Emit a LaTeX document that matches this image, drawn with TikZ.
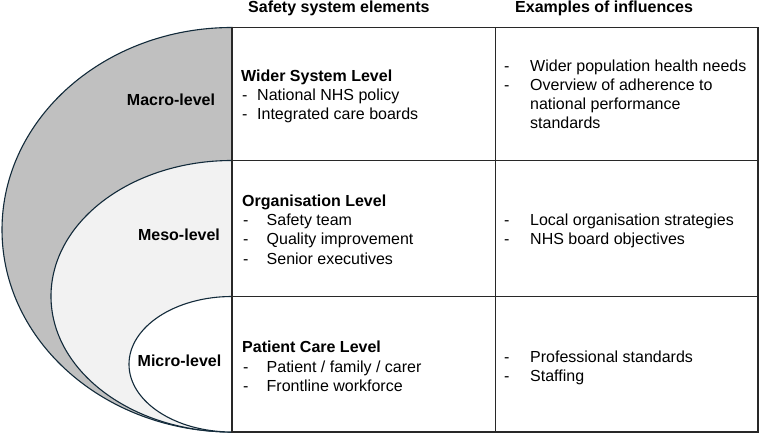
\documentclass[tikz,border=0pt]{standalone}
\usepackage{fontspec}
\setmainfont{Liberation Sans}
\definecolor{edgec}{RGB}{18,42,58}
\definecolor{gridc}{RGB}{40,40,40}
\definecolor{macrofill}{RGB}{192,192,192}
\definecolor{mesofill}{RGB}{242,242,242}
\begin{document}
\begin{tikzpicture}[x=1pt,y=1pt,
  txt/.style={anchor=base west, inner sep=0pt, font=\fontsize{16}{19}\selectfont},
  btxt/.style={anchor=base west, inner sep=0pt, font=\fontsize{16}{19}\selectfont\bfseries},
  lvl/.style={anchor=center, inner sep=0pt, font=\fontsize{16}{19}\selectfont\bfseries},
  ring/.style={draw=edgec, line width=1.1pt},
  gridline/.style={draw=gridc, line width=1.1pt}]
\useasboundingbox (0,0) rectangle (760,435);
% nested half-ellipses
\filldraw[ring, fill=macrofill] (232,407.5) arc[start angle=90,end angle=270,x radius=230,y radius=202.25] -- cycle;
\filldraw[ring, fill=mesofill] (232,274.5) arc[start angle=90,end angle=270,x radius=181,y radius=135.75] -- cycle;
\filldraw[ring, fill=white] (232,138.5) arc[start angle=90,end angle=270,x radius=103,y radius=67.75] -- cycle;
% table
\coordinate (t1) at (232,407.5);
\coordinate (t2) at (758,407.5);
\coordinate (t3) at (758,3);
\coordinate (t4) at (232,3);
\coordinate (m1) at (495.5,407.5);
\coordinate (m2) at (495.5,3);
\coordinate (r1a) at (232,274.5);
\coordinate (r1b) at (758,274.5);
\coordinate (r2a) at (232,138.5);
\coordinate (r2b) at (758,138.5);
\draw[gridline] (t1) -- (t2) -- (t3) -- (t4) -- cycle;
\draw[gridline] (m1) -- (m2);
\draw[gridline] (r1a) -- (r1b);
\draw[gridline] (r2a) -- (r2b);
% level labels
\node[lvl] (macro) at (171,335) {Macro-level};
\node[lvl] (meso) at (179,200) {Meso-level};
\node[lvl] (micro) at (179.5,74) {Micro-level};
% headers
\node[btxt] (h1) at (248,422) {Safety system elements};
\node[btxt] (h2) at (515,422) {Examples of influences};
% row 1
\node[btxt] (a0) at (241,353) {Wider System Level};
\node[txt] (a1d) at (242,334) {-};
\node[txt] (a1) at (257,334) {National NHS policy};
\node[txt] (a2d) at (242,315) {-};
\node[txt] (a2) at (257,315) {Integrated care boards};
\node[txt] (b1d) at (504,363) {-};
\node[txt] (b1) at (530,363) {Wider population health needs};
\node[txt] (b2d) at (504,344) {-};
\node[txt] (b2) at (530,344) {Overview of adherence to};
\node[txt] (b3) at (530,325) {national performance};
\node[txt] (b4) at (530,306) {standards};
% row 2
\node[btxt] (c0) at (242,228.5) {Organisation Level};
\node[txt] (c1d) at (243,209.4) {-};
\node[txt] (c1) at (266.5,209.4) {Safety team};
\node[txt] (c2d) at (243,190) {-};
\node[txt] (c2) at (266.5,190) {Quality improvement};
\node[txt] (c3d) at (243,170.5) {-};
\node[txt] (c3) at (266.5,170.5) {Senior executives};
\node[txt] (d1d) at (504,209.4) {-};
\node[txt] (d1) at (530,209.4) {Local organisation strategies};
\node[txt] (d2d) at (504,190) {-};
\node[txt] (d2) at (530,190) {NHS board objectives};
% row 3
\node[btxt] (e0) at (242,82) {Patient Care Level};
\node[txt] (e1d) at (243,62.4) {-};
\node[txt] (e1) at (266.5,62.4) {Patient / family / carer};
\node[txt] (e2d) at (243,43.2) {-};
\node[txt] (e2) at (266.5,43.2) {Frontline workforce};
\node[txt] (f1d) at (504,72.6) {-};
\node[txt] (f1) at (530,72.6) {Professional standards};
\node[txt] (f2d) at (504,53) {-};
\node[txt] (f2) at (530,53) {Staffing};
\end{tikzpicture}
\end{document}
